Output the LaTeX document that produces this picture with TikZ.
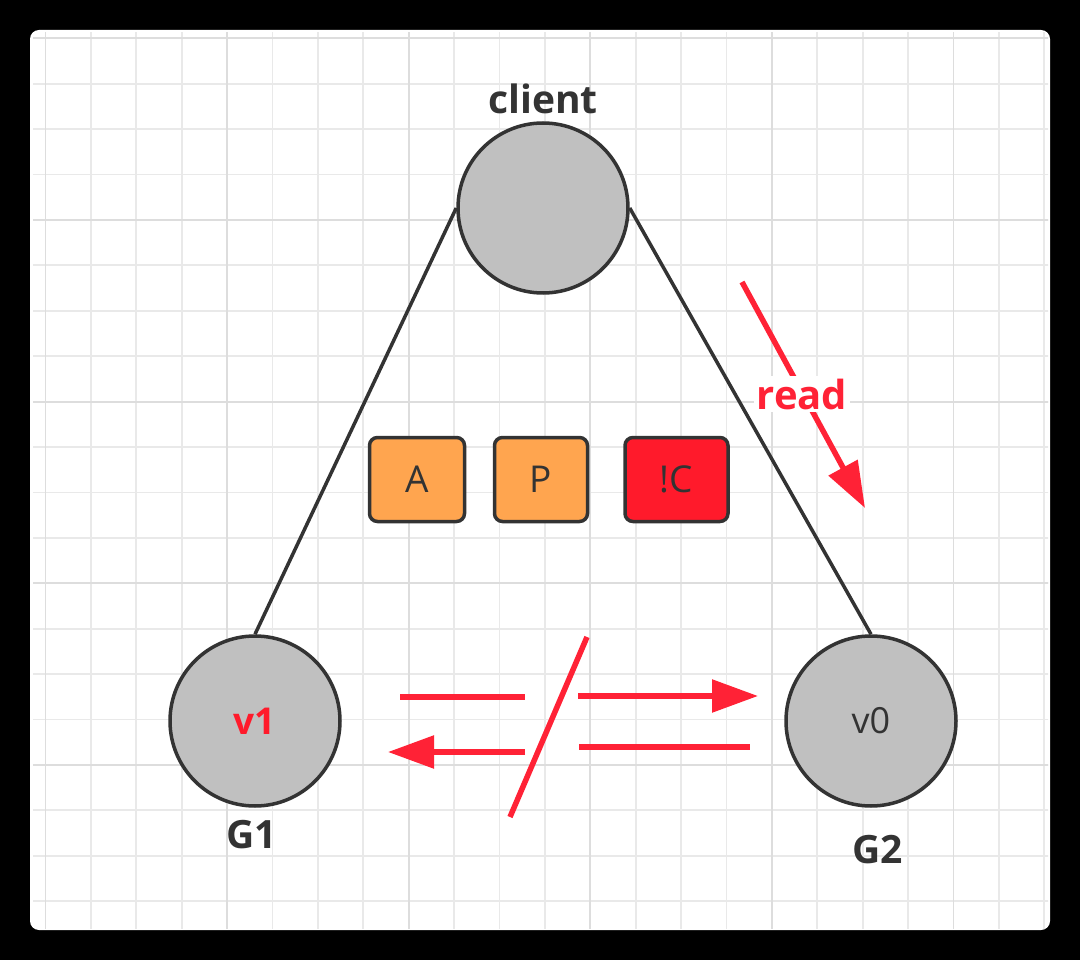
\documentclass[tikz,border=0pt]{standalone}
\usepackage{fontspec}
\setmainfont{Open Sans}
\usetikzlibrary{arrows.meta}
\definecolor{edgegray}{HTML}{333333}
\definecolor{hostgray}{HTML}{C0C0C0}
\definecolor{tagorange}{HTML}{FFA54F}
\definecolor{tagred}{HTML}{FF1A2B}
\definecolor{msgred}{HTML}{FF2236}
\definecolor{gridminor}{HTML}{E9E9E9}
\definecolor{gridmajor}{HTML}{DDDDDD}
\tikzset{
  host/.style={circle, draw=edgegray, fill=hostgray, line width=3.5pt,
    minimum size=170pt, inner sep=0pt, text=edgegray,
    font=\fontsize{36}{40}\selectfont},
  tag/.style={draw=edgegray, fill=tagorange, line width=3.5pt, rounded corners=8pt,
    minimum height=84pt, text=edgegray, font=\fontsize{37}{40}\selectfont},
  lbl/.style={text=edgegray, font=\fontsize{39}{42}\selectfont\bfseries},
  edge/.style={draw=edgegray, line width=3.5pt},
  msg/.style={draw=msgred, line width=5.5pt},
  msgtip/.style={msg, -{Triangle[length=46pt,width=32pt]}},
}
\begin{document}
\begin{tikzpicture}[x=1pt,y=-1pt]
      % frame and grid paper
      \fill[black] (0,0) rectangle (1080,960);
      \fill[white, rounded corners=9pt] (30,30) rectangle (1050,930);
      \begin{scope}
        \clip (33,33) rectangle (1048,928);
        \begin{scope}[shift={(227,220)}]
          \draw[gridminor, line width=1.8pt, step=45.4pt] (-250pt,-740pt) grid (850pt,240pt);
          \draw[gridmajor, line width=1.8pt, step=181.6pt] (-250pt,-740pt) grid (850pt,240pt);
        \end{scope}
      \end{scope}
      % hosts
      \draw
        (543,208) node[host] (client){}
        (255,721) node[host, font=\fontsize{37}{40}\selectfont\bfseries, text=tagred] (g1){v1}
        (871,721) node[host] (g2){v0};
      \node[lbl] (clientlbl) at (543,99) {client};
      \node[lbl] (g1lbl) at (252,835) {G1};
      \node[lbl] (g2lbl) at (878,850) {G2};
      \begin{scope}[-]
        \draw[edge] (client.west) to (g1.north);
        \draw[edge] (client.east) to (g2.north);
      \end{scope}
      % CAP tags
      \node[tag, minimum width=95pt] (a) at (417,479.5) {A};
      \node[tag, minimum width=93pt] (p) at (541,479.5) {P};
      \node[tag, minimum width=103pt, fill=tagred] (notc) at (676.5,479.5) {!C};
      % read request
      \coordinate (readfrom) at (742,282);
      \coordinate (readto) at (865,508);
      \draw[msgtip] (readfrom) to (readto);
      \node[fill=white, inner sep=3pt, text=msgred, font=\fontsize{40}{42}\selectfont\bfseries]
        (read) at (802,394) {read};
      % broken replication
      \coordinate (s1) at (400,697);
      \coordinate (s2) at (525,697);
      \coordinate (s3) at (578,696);
      \coordinate (s4) at (758,696);
      \coordinate (s5) at (525,752);
      \coordinate (s6) at (388,752);
      \coordinate (s7) at (579,747);
      \coordinate (s8) at (750,747);
      \coordinate (cut1) at (587,637);
      \coordinate (cut2) at (510,817);
      \draw[msg] (s1) to (s2);
      \draw[msgtip] (s3) to (s4);
      \draw[msgtip] (s5) to (s6);
      \draw[msg] (s7) to (s8);
      \draw[msg] (cut1) to (cut2);
    \end{tikzpicture}
\end{document}
